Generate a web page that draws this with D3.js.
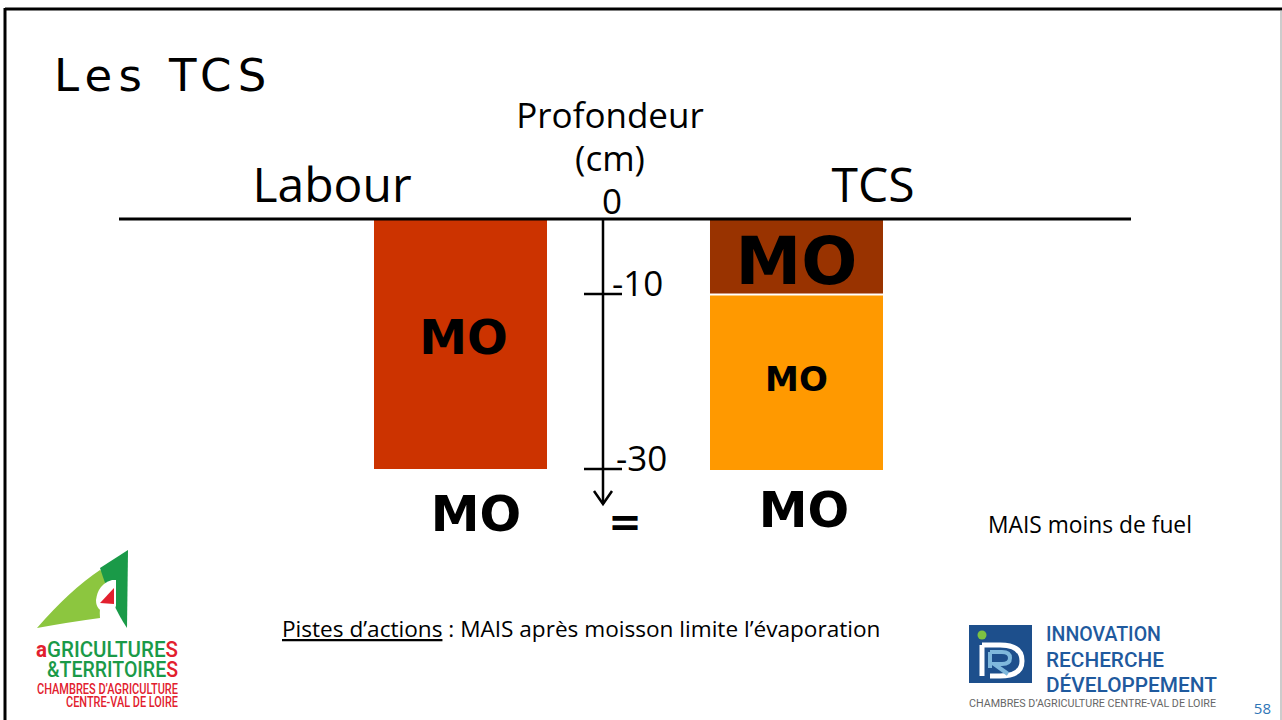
<!DOCTYPE html>
<html>
<head>
<meta charset="utf-8">
<script src="https://cdn.jsdelivr.net/npm/d3@7.9.0/dist/d3.min.js"></script>
<style>
  html, body { margin: 0; padding: 0; background: #fff; }
  svg { display: block; }
  .seg { font-family: "Open Sans", "Noto Sans", sans-serif; }
  .mo { font-family: "DejaVu Sans", Verdana, sans-serif; font-weight: bold; }
</style>
</head>
<body>
<svg width="1282" height="720"></svg>
<script>
// data
const practices = ['Labour', 'TCS'];
const layers = [
  { practice: 'Labour', top: 0, bottom: -30, color: '#cc3300', label: 'MO', size: 48 },
  { practice: 'TCS', top: 0, bottom: -10, color: '#993300', label: 'MO', size: 66 },
  { practice: 'TCS', top: -10, bottom: -30, color: '#ff9900', label: 'MO', size: 34 }
];
const depthTicks = [-10, -30];
const depthKnots = [0, -10, -30];   // schematic, not proportional
const axisEnd = -34;

const svg = d3.select('svg');

// frame
svg.append('line').attr('x1', 5).attr('x2', 1282).attr('y1', 9).attr('y2', 9)
  .attr('stroke', '#000').attr('stroke-width', 3);
svg.append('line').attr('x1', 5).attr('x2', 5).attr('y1', 8).attr('y2', 720)
  .attr('stroke', '#000').attr('stroke-width', 3);
svg.append('line').attr('x1', 1281).attr('x2', 1281).attr('y1', 10).attr('y2', 720)
  .attr('stroke', '#999').attr('stroke-width', 1);

svg.append('text').attr('x', 54).attr('y', 91)
  .style('font-family', '"DejaVu Sans", Verdana, sans-serif').style('font-size', '45px')
  .style('letter-spacing', '6.3px').text('Les TCS');

// scales
let y = d3.scaleLinear().domain(depthKnots).range([219, 294, 469]);
let x = d3.scaleBand().domain(practices).range([374, 883]).paddingInner(0.4851).paddingOuter(0);

// bars
svg.selectAll('rect.layer').data(layers).join('rect')
  .attr('class', 'layer')
  .attr('x', d => x(d.practice))
  .attr('width', x.bandwidth())
  .attr('y', (d, i) => y(d.top) + (i === 2 ? 1.5 : 0.5))
  .attr('height', (d, i) => y(d.bottom) - y(d.top) - (i === 1 ? 1 : 0.5))
  .attr('fill', d => d.color);

const labelShift = [-8, 3, -3];
svg.selectAll('text.layerlab').data(layers).join('text')
  .attr('class', 'mo')
  .attr('x', d => x(d.practice) + x.bandwidth() / 2 + (d.practice === 'Labour' ? 3 : 0))
  .attr('y', (d, i) => (y(d.top) + y(d.bottom)) / 2 + d.size * 0.365 + labelShift[i])
  .attr('text-anchor', 'middle')
  .style('font-size', d => d.size + 'px')
  .text(d => d.label);

// ground line
svg.append('line').attr('x1', 119).attr('x2', 1131).attr('y1', y(0)).attr('y2', y(0))
  .attr('stroke', '#000').attr('stroke-width', 3);

// depth axis
const ax = 603;
svg.append('line').attr('x1', ax).attr('x2', ax).attr('y1', y(0)).attr('y2', y(axisEnd))
  .attr('stroke', '#000').attr('stroke-width', 2.5);
svg.append('path')
  .attr('d', `M${ax - 9},${y(axisEnd) - 13}L${ax},${y(axisEnd)}L${ax + 9},${y(axisEnd) - 13}`)
  .attr('fill', 'none').attr('stroke', '#000').attr('stroke-width', 2.5);

svg.selectAll('line.tick').data(depthTicks).join('line')
  .attr('x1', ax - 19).attr('x2', ax + 19)
  .attr('y1', d => y(d)).attr('y2', d => y(d))
  .attr('stroke', '#000').attr('stroke-width', 2.5);
svg.selectAll('text.ticklab').data(depthTicks).join('text')
  .attr('class', 'seg')
  .attr('x', (d, i) => ax + 9 + i * 4)
  .attr('y', d => y(d) + 2)
  .style('font-size', '35px')
  .text(d => d);

svg.append('text').attr('class', 'seg').attr('x', 612).attr('y', y(0) - 5)
  .attr('text-anchor', 'middle').style('font-size', '35px').text('0');
svg.append('text').attr('class', 'seg').attr('x', 610).attr('y', 171)
  .attr('text-anchor', 'middle').style('font-size', '35px').text('(cm)');
svg.append('text').attr('class', 'seg').attr('x', 610).attr('y', 128)
  .attr('text-anchor', 'middle').style('font-size', '35px').text('Profondeur');

// practice headings
svg.append('text').attr('class', 'seg').attr('x', 332).attr('y', 202)
  .attr('text-anchor', 'middle').style('font-size', '48px').text(practices[0]);
svg.append('text').attr('class', 'seg').attr('x', 873).attr('y', 202)
  .attr('text-anchor', 'middle').style('font-size', '48px').text(practices[1]);

// totals below
svg.append('text').attr('class', 'mo').attr('x', 476).attr('y', 531)
  .attr('text-anchor', 'middle').style('font-size', '49px').text('MO');
svg.append('text').attr('class', 'mo').attr('x', 804).attr('y', 527)
  .attr('text-anchor', 'middle').style('font-size', '49px').text('MO');
svg.append('text').attr('class', 'mo').attr('x', 625).attr('y', 536)
  .attr('text-anchor', 'middle').style('font-size', '40px').text('=');

svg.append('text').attr('class', 'seg').attr('x', 988).attr('y', 533)
  .style('font-size', '22.8px').text('MAIS moins de fuel');

const note = svg.append('text').attr('class', 'seg').attr('x', 282).attr('y', 637)
  .style('font-size', '22.6px');
note.append('tspan').style('text-decoration', 'underline').text('Pistes d’actions');
note.append('tspan').text(' : MAIS après moisson limite l’évaporation');

svg.append('text').attr('class', 'seg').attr('x', 1271).attr('y', 714)
  .attr('text-anchor', 'end').attr('fill', '#2e75b6').style('font-size', '15px').text('58');

// logo agricultures & territoires
const red = '#e2202e', green = '#1a9a48';
const lg = svg.append('g');
lg.append('path').attr('d', 'M37,628 Q70,590 100,570 L112,577 Q98,600 100,618 Q70,622 37,628Z').attr('fill', '#8cc63f');
lg.append('path').attr('d', 'M100,568 L128,550 L127,628 Q112,606 100,568Z').attr('fill', green);
lg.append('path').attr('d', 'M112,580 Q98,584 96,600 Q96,612 108,612 Q114,612 116,606 L116,580Z').attr('fill', '#fff');
lg.append('path').attr('d', 'M100,603 L114,588 L114,604Z').attr('fill', red);
const lt = [
  { parts: [['a', red], ['GRICULTURE', green], ['S', red]], x: 36, y: 657, w: 142, s: 18 },
  { parts: [['&TERRITOIRE', green], ['S', red]], x: 47, y: 677, w: 131, s: 17 },
  { parts: [['CHAMBRES  D’AGRICULTURE', red]], x: 37, y: 694, w: 141, s: 11 },
  { parts: [['CENTRE-VAL DE LOIRE', red]], x: 66, y: 706.5, w: 112, s: 11 }
];
lt.forEach(d => {
  const t = lg.append('text')
    .attr('transform', `translate(${d.x},${d.y}) scale(1,1.25)`)
    .attr('textLength', d.w).attr('lengthAdjust', 'spacingAndGlyphs')
    .style('font-family', 'Roboto, sans-serif').style('font-weight', 500)
    .style('font-size', d.s + 'px');
  d.parts.forEach(([s, c]) => t.append('tspan').attr('fill', c)
    .style('font-weight', s === 'a' ? 'bold' : 500).text(s));
});

// logo IRD
const rg = svg.append('g');
rg.append('rect').attr('x', 969).attr('y', 625).attr('width', 63).attr('height', 58).attr('fill', '#1d4f8c');
rg.append('path').attr('d', 'M982,645 L982,676 M982,645 L1000,645 Q1022,645 1022,661 Q1022,676 1000,676 L990,676')
  .attr('fill', 'none').attr('stroke', '#fff').attr('stroke-width', 5);
rg.append('path').attr('d', 'M990,652 L990,668 M990,652 L1002,652 Q1010,652 1010,658 Q1010,664 1002,664 L994,664 L1008,674')
  .attr('fill', 'none').attr('stroke', '#7fb8dc').attr('stroke-width', 4);
rg.append('circle').attr('cx', 982).attr('cy', 635).attr('r', 4.5).attr('fill', '#7dc242');
const rt = [
  { t: 'INNOVATION', y: 641, w: 115 },
  { t: 'RECHERCHE', y: 667, w: 118 },
  { t: 'DÉVELOPPEMENT', y: 692, w: 171 }
];
rg.selectAll('text.ird').data(rt).join('text')
  .attr('x', 1046).attr('y', d => d.y)
  .attr('textLength', d => d.w).attr('lengthAdjust', 'spacingAndGlyphs')
  .attr('fill', '#1f5a9e')
  .style('font-family', 'Roboto, sans-serif').style('font-weight', 500)
  .style('font-size', '21px').text(d => d.t);
rg.append('text').attr('x', 969).attr('y', 707)
  .attr('textLength', 247).attr('lengthAdjust', 'spacingAndGlyphs')
  .attr('fill', '#666').style('font-family', 'Roboto, sans-serif').style('font-size', '10px')
  .text('CHAMBRES D’AGRICULTURE CENTRE-VAL DE LOIRE');
</script>
</body>
</html>
